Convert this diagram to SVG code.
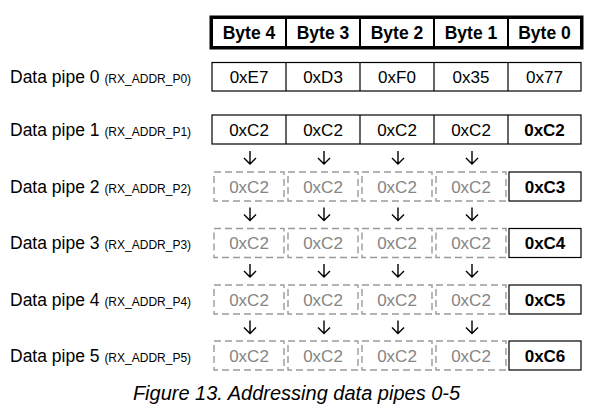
<svg xmlns="http://www.w3.org/2000/svg" width="601" height="420" viewBox="0 0 601 420">
<defs>
<style>
text{font-family:"Liberation Sans",Arial,sans-serif;fill:#000}
.lbl{font-size:17.5px}
.sm{font-size:12px}
.cell{font-size:17px;text-anchor:middle}
.hdr{font-size:17.5px;font-weight:bold;text-anchor:middle}
.b{font-weight:bold}
.gt{fill:#858585}
.solid{fill:#fff;stroke:#000;stroke-width:1.2}
.dash{fill:none;stroke:#9a9a9a;stroke-width:1.4;stroke-dasharray:7 4}
.hbox{fill:#fff;stroke:#000;stroke-width:2}
.arr{fill:none;stroke:#000;stroke-width:1.4}
.cap{font-size:20px;font-style:italic;text-anchor:middle}
</style>
</defs>
<rect width="601" height="420" fill="#fff"/>
<g id="header">
<rect class="hbox" x="212" y="18" width="74" height="29"/>
<rect class="hbox" x="286" y="18" width="74" height="29"/>
<rect class="hbox" x="360" y="18" width="74" height="29"/>
<rect class="hbox" x="434" y="18" width="74" height="29"/>
<rect class="hbox" x="508" y="18" width="73" height="29"/>
<rect x="211" y="17" width="371" height="31" fill="none" stroke="#000" stroke-width="3"/>
<text class="hdr" x="249" y="38.5">Byte 4</text>
<text class="hdr" x="323" y="38.5">Byte 3</text>
<text class="hdr" x="397" y="38.5">Byte 2</text>
<text class="hdr" x="471" y="38.5">Byte 1</text>
<text class="hdr" x="544.5" y="38.5">Byte 0</text>
</g>
<g id="pipe0">
<text class="lbl" x="10" y="82.5">Data pipe 0 <tspan class="sm">(RX_ADDR_P0)</tspan></text>
<rect class="solid" x="212" y="62.5" width="369" height="28.5"/>
<path d="M286 62.5V91M360 62.5V91M434 62.5V91M508 62.5V91" stroke="#000" stroke-width="1.2"/>
<text class="cell" x="249" y="82.5">0xE7</text>
<text class="cell" x="323" y="82.5">0xD3</text>
<text class="cell" x="397" y="82.5">0xF0</text>
<text class="cell" x="471" y="82.5">0x35</text>
<text class="cell" x="544.5" y="82.5">0x77</text>
</g>
<g id="pipe1">
<text class="lbl" x="10" y="135.5">Data pipe 1 <tspan class="sm">(RX_ADDR_P1)</tspan></text>
<rect class="solid" x="212" y="115" width="369" height="29"/>
<path d="M286 115V144M360 115V144M434 115V144M508 115V144" stroke="#000" stroke-width="1.2"/>
<text class="cell" x="249" y="135.5">0xC2</text>
<text class="cell" x="323" y="135.5">0xC2</text>
<text class="cell" x="397" y="135.5">0xC2</text>
<text class="cell" x="471" y="135.5">0xC2</text>
<text class="cell b" x="544.5" y="135.5">0xC2</text>
</g>
<g id="pipe2">
<text class="lbl" x="10" y="192.5">Data pipe 2 <tspan class="sm">(RX_ADDR_P2)</tspan></text>
<rect class="dash" x="214" y="172" width="70" height="29"/>
<rect class="dash" x="288" y="172" width="70" height="29"/>
<rect class="dash" x="362" y="172" width="70" height="29"/>
<rect class="dash" x="436" y="172" width="70" height="29"/>
<rect class="solid" x="509" y="172" width="72" height="29" stroke-width="1.6"/>
<text class="cell gt" x="249" y="192.5">0xC2</text>
<text class="cell gt" x="323" y="192.5">0xC2</text>
<text class="cell gt" x="397" y="192.5">0xC2</text>
<text class="cell gt" x="471" y="192.5">0xC2</text>
<text class="cell b" x="545" y="192.5">0xC3</text>
</g>
<g id="pipe3">
<text class="lbl" x="10" y="249">Data pipe 3 <tspan class="sm">(RX_ADDR_P3)</tspan></text>
<rect class="dash" x="214" y="228.5" width="70" height="29"/>
<rect class="dash" x="288" y="228.5" width="70" height="29"/>
<rect class="dash" x="362" y="228.5" width="70" height="29"/>
<rect class="dash" x="436" y="228.5" width="70" height="29"/>
<rect class="solid" x="509" y="228.5" width="72" height="29" stroke-width="1.6"/>
<text class="cell gt" x="249" y="249">0xC2</text>
<text class="cell gt" x="323" y="249">0xC2</text>
<text class="cell gt" x="397" y="249">0xC2</text>
<text class="cell gt" x="471" y="249">0xC2</text>
<text class="cell b" x="545" y="249">0xC4</text>
</g>
<g id="pipe4">
<text class="lbl" x="10" y="305.5">Data pipe 4 <tspan class="sm">(RX_ADDR_P4)</tspan></text>
<rect class="dash" x="214" y="285" width="70" height="29"/>
<rect class="dash" x="288" y="285" width="70" height="29"/>
<rect class="dash" x="362" y="285" width="70" height="29"/>
<rect class="dash" x="436" y="285" width="70" height="29"/>
<rect class="solid" x="509" y="285" width="72" height="29" stroke-width="1.6"/>
<text class="cell gt" x="249" y="305.5">0xC2</text>
<text class="cell gt" x="323" y="305.5">0xC2</text>
<text class="cell gt" x="397" y="305.5">0xC2</text>
<text class="cell gt" x="471" y="305.5">0xC2</text>
<text class="cell b" x="545" y="305.5">0xC5</text>
</g>
<g id="pipe5">
<text class="lbl" x="10" y="361.5">Data pipe 5 <tspan class="sm">(RX_ADDR_P5)</tspan></text>
<rect class="dash" x="214" y="341" width="70" height="29"/>
<rect class="dash" x="288" y="341" width="70" height="29"/>
<rect class="dash" x="362" y="341" width="70" height="29"/>
<rect class="dash" x="436" y="341" width="70" height="29"/>
<rect class="solid" x="509" y="341" width="72" height="29" stroke-width="1.6"/>
<text class="cell gt" x="249" y="361.5">0xC2</text>
<text class="cell gt" x="323" y="361.5">0xC2</text>
<text class="cell gt" x="397" y="361.5">0xC2</text>
<text class="cell gt" x="471" y="361.5">0xC2</text>
<text class="cell b" x="545" y="361.5">0xC6</text>
</g>
<g id="connectors" class="arr">
<path d="M250 151V164M244 158l6 6 6-6M324 151V164M318 158l6 6 6-6M398 151V164M392 158l6 6 6-6M472 151V164M466 158l6 6 6-6"/>
<path d="M250 207.5V220.5M244 214.5l6 6 6-6M324 207.5V220.5M318 214.5l6 6 6-6M398 207.5V220.5M392 214.5l6 6 6-6M472 207.5V220.5M466 214.5l6 6 6-6"/>
<path d="M250 264V277M244 271l6 6 6-6M324 264V277M318 271l6 6 6-6M398 264V277M392 271l6 6 6-6M472 264V277M466 271l6 6 6-6"/>
<path d="M250 320.5V333.5M244 327.5l6 6 6-6M324 320.5V333.5M318 327.5l6 6 6-6M398 320.5V333.5M392 327.5l6 6 6-6M472 320.5V333.5M466 327.5l6 6 6-6"/>
</g>
<text class="cap" x="296.5" y="400">Figure 13. Addressing data pipes 0-5</text>
</svg>
